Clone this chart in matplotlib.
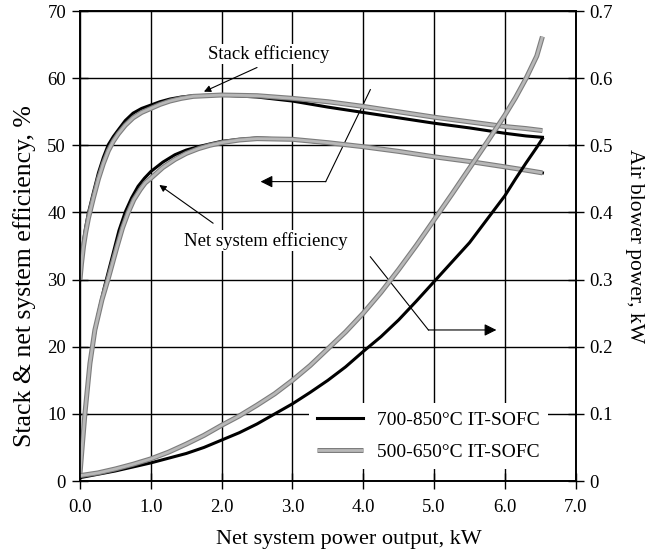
import numpy as np
import matplotlib.pyplot as plt
import matplotlib.patheffects as pe

plt.rcParams['font.family'] = ['Liberation Serif', 'DejaVu Serif']

# stack efficiency, %
stack_x_hi = [0.0, 0.02, 0.05, 0.08, 0.12, 0.19, 0.26, 0.33, 0.40, 0.47, 0.54, 0.64, 0.75, 0.87, 1.0, 1.13, 1.27, 1.43, 1.6, 2.0, 2.5, 3.0, 3.5, 4.0, 4.5, 5.0, 5.5, 6.0, 6.3, 6.53]
stack_y_hi = [30.0, 33.0, 35.8, 37.8, 40.0, 43.0, 45.9, 48.2, 50.1, 51.3, 52.3, 53.7, 54.8, 55.5, 56.0, 56.5, 56.9, 57.2, 57.4, 57.5, 57.2, 56.6, 55.7, 54.9, 54.1, 53.3, 52.6, 51.8, 51.4, 51.2]
stack_x_lo = [0.0, 0.02, 0.05, 0.08, 0.12, 0.19, 0.26, 0.33, 0.40, 0.47, 0.54, 0.64, 0.75, 0.87, 1.0, 1.13, 1.27, 1.43, 1.6, 2.0, 2.5, 3.0, 3.5, 4.0, 4.5, 5.0, 5.5, 6.0, 6.3, 6.53]
stack_y_lo = [30.0, 32.3, 35.0, 37.0, 39.2, 42.2, 45.0, 47.3, 49.2, 50.6, 51.7, 53.0, 54.1, 54.9, 55.5, 56.1, 56.6, 57.0, 57.3, 57.5, 57.4, 57.0, 56.5, 55.8, 55.0, 54.2, 53.5, 52.8, 52.5, 52.2]

# net system efficiency, %
net_x_hi = [0.0, 0.03, 0.07, 0.13, 0.19, 0.26, 0.34, 0.47, 0.55, 0.64, 0.73, 0.82, 0.91, 1.0, 1.17, 1.34, 1.5, 1.67, 1.83, 2.0, 2.25, 2.5, 3.0, 3.5, 4.0, 4.5, 5.0, 5.5, 6.0, 6.3, 6.53]
net_y_hi = [0.8, 5.0, 10.5, 16.5, 21.0, 25.0, 28.7, 34.0, 37.3, 40.1, 42.2, 43.9, 45.1, 46.1, 47.5, 48.6, 49.3, 49.8, 50.2, 50.6, 50.9, 51.1, 50.9, 50.3, 49.8, 49.1, 48.3, 47.6, 46.8, 46.3, 45.9]
net_x_lo = [0.0, 0.03, 0.07, 0.14, 0.21, 0.31, 0.40, 0.52, 0.60, 0.68, 0.76, 0.85, 0.92, 1.0, 1.17, 1.34, 1.5, 1.67, 1.83, 2.0, 2.25, 2.5, 3.0, 3.5, 4.0, 4.5, 5.0, 5.5, 6.0, 6.3, 6.53]
net_y_lo = [1.1, 5.0, 10.1, 17.5, 22.5, 27.0, 30.2, 34.8, 37.7, 40.0, 41.9, 43.4, 44.4, 45.1, 46.7, 47.9, 48.8, 49.5, 50.0, 50.4, 50.8, 51.0, 50.9, 50.4, 49.8, 49.1, 48.3, 47.6, 46.8, 46.3, 45.9]

# air blower power, kW
blower_x = [0.0, 0.25, 0.5, 0.75, 1.0, 1.25, 1.5, 1.75, 2.0, 2.25, 2.5, 2.75, 3.0, 3.25, 3.5, 3.75, 4.0, 4.25, 4.5, 4.75, 5.0, 5.25, 5.5, 5.75, 6.0, 6.15, 6.3, 6.45, 6.53]
blower_hi = [0.005, 0.010, 0.015, 0.021, 0.027, 0.034, 0.041, 0.050, 0.061, 0.072, 0.085, 0.100, 0.115, 0.132, 0.150, 0.170, 0.193, 0.215, 0.240, 0.268, 0.297, 0.326, 0.355, 0.390, 0.425, 0.450, 0.474, 0.497, 0.510]
blower_lo = [0.008, 0.012, 0.018, 0.025, 0.033, 0.043, 0.055, 0.068, 0.083, 0.097, 0.113, 0.130, 0.150, 0.172, 0.197, 0.222, 0.250, 0.281, 0.315, 0.351, 0.389, 0.427, 0.466, 0.505, 0.545, 0.571, 0.600, 0.633, 0.662]

labels = ['700-850°C IT-SOFC', '500-650°C IT-SOFC']
xticks = np.arange(0, 7.5, 1.0)
yticks = np.arange(0, 80, 10)
y2ticks = np.arange(0, 0.8, 0.1)

fig = plt.figure(figsize=(6.59, 5.55), dpi=100)
ax = fig.add_axes([0.1214, 0.1333, 0.7522, 0.8467])
ax2 = ax.twinx()

lw_b = 2.2
grey_fx = [pe.Stroke(linewidth=3.6, foreground='#7d7d7d'), pe.Normal()]
grey_kw = dict(color='#b8b8b8', lw=2.0, path_effects=grey_fx, solid_capstyle='butt')

ax.plot(stack_x_hi, stack_y_hi, color='black', lw=lw_b, zorder=3)
ax.plot(stack_x_lo, stack_y_lo, zorder=3, **grey_kw)
ax.plot(net_x_hi, net_y_hi, color='black', lw=lw_b, zorder=3)
ax.plot(net_x_lo, net_y_lo, zorder=3, **grey_kw)
h1, = ax2.plot(blower_x, blower_hi, color='black', lw=lw_b)
h2, = ax2.plot(blower_x, blower_lo, **grey_kw)

ax.set_xlim(0, 7)
ax.set_ylim(0, 70)
ax2.set_ylim(0, 0.7)
ax.set_xticks(xticks)
ax.set_xticklabels(['%.1f' % v for v in xticks])
ax.set_yticks(yticks)
ax2.set_yticks(y2ticks)
ax2.set_yticklabels(['0'] + ['%.1f' % v for v in y2ticks[1:]])

ax.grid(True, color='black', lw=1.0)
ax.set_axisbelow(True)
for a in (ax, ax2):
    a.tick_params(direction='inout', length=12, width=1.0, labelsize=13.5, colors='black')
    for s in a.spines.values():
        s.set_linewidth(1.2)
ax.tick_params(axis='x', pad=7)
ax.tick_params(axis='y', pad=4)
ax2.tick_params(axis='y', pad=4)

ax.set_xlabel('Net system power output, kW', fontsize=16)
ax.xaxis.set_label_coords(0.543, -0.104)
ax.set_ylabel('Stack & net system efficiency, %', fontsize=18.5)
ax.yaxis.set_label_coords(-0.089, 0.436)
ax2.set_ylabel('Air blower power, kW', fontsize=15.5, rotation=270, labelpad=22)

wbox = dict(facecolor='white', edgecolor='none', pad=1)
ax.text(2.67, 63.6, 'Stack efficiency', fontsize=13.5, ha='center', va='center', bbox=wbox, zorder=4)
ax.text(2.62, 35.8, 'Net system efficiency', fontsize=13.5, ha='center', va='center', bbox=wbox, zorder=4)

thin = dict(arrowstyle='-|>', color='black', lw=0.8, mutation_scale=10, shrinkA=0, shrinkB=0)
ax.annotate('', xy=(1.75, 58.0), xytext=(2.5, 61.6), arrowprops=thin)
ax.annotate('', xy=(1.12, 44.1), xytext=(1.88, 38.4), arrowprops=thin)

# pointer lines to axes
big = dict(arrowstyle='-|>', color='black', lw=0.8, mutation_scale=18, shrinkA=0, shrinkB=0)
ax.plot([4.10, 3.47], [58.3, 44.6], color='black', lw=0.8)
ax.annotate('', xy=(2.55, 44.6), xytext=(3.47, 44.6), arrowprops=big)
ax.plot([4.10, 4.92], [33.4, 22.5], color='black', lw=0.8)
ax.annotate('', xy=(5.88, 22.5), xytext=(4.92, 22.5), arrowprops=big)

leg = ax2.legend([h1, h2], labels, loc='lower left', bbox_to_anchor=(0.462, 0.026),
                 frameon=True, fontsize=14, handlelength=2.4, handletextpad=0.7,
                 labelspacing=0.75, borderpad=0.4, borderaxespad=0)
leg.get_frame().set_edgecolor('none')
leg.get_frame().set_facecolor('white')
leg.get_frame().set_alpha(1.0)

fig.savefig('out.png', dpi=100)
